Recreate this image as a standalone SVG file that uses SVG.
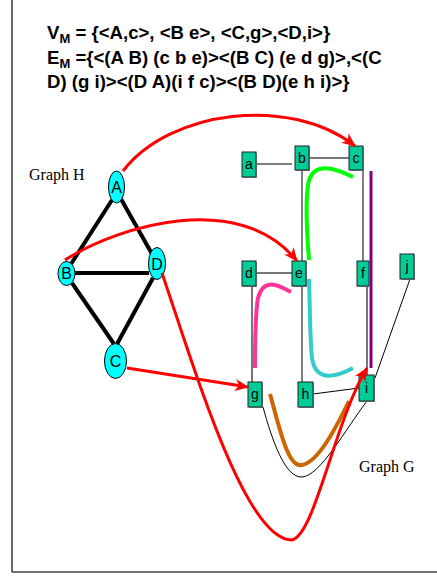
<svg xmlns="http://www.w3.org/2000/svg" width="437" height="576" viewBox="0 0 437 576">
<style>
.ttl{font-family:"Liberation Sans",Arial,sans-serif;font-weight:bold;font-size:18.6px;fill:#000}
.ser{font-family:"Liberation Serif","Times New Roman",serif;font-size:16px;fill:#000}
.hn ellipse{fill:#00FFFF;stroke:#000;stroke-width:1}
.hn text{font-family:"Liberation Sans",Arial,sans-serif;font-size:16px;text-anchor:middle;fill:#000}
.gn .sh{fill:#999}
.gn .bx{fill:#00CC99;stroke:#222;stroke-width:1}
.gn text{font-family:"Liberation Sans",Arial,sans-serif;font-size:14px;text-anchor:middle;fill:#000}
.he{stroke:#000;stroke-width:4;fill:none}
.thin{stroke:#000;stroke-width:1;fill:none}
.gray{stroke:#777;stroke-width:2;fill:none}
.red{stroke:#FF0000;stroke-width:3;fill:none;marker-end:url(#ah)}
.hl{fill:none;stroke-width:4;stroke-linecap:butt}
</style>
<defs>
<marker id="ah" markerUnits="userSpaceOnUse" markerWidth="14" markerHeight="12" viewBox="0 0 14 12" refX="13" refY="6" orient="auto">
<path d="M0,0 L14,6 L0,12 L4,6 Z" fill="#FF0000"/>
</marker>
</defs>
<rect x="0" y="0" width="437" height="576" fill="#fff"/>
<g id="frame">
<line x1="12" y1="0" x2="12" y2="572" stroke="#666" stroke-width="2"/>
<line x1="12" y1="572" x2="437" y2="572" stroke="#444" stroke-width="1.5"/>
</g>
<g id="title">
<text class="ttl" x="47" y="39">V<tspan font-size="13" dy="4">M</tspan><tspan dy="-4"> = {&lt;A,c&gt;, &lt;B e&gt;, &lt;C,g&gt;,&lt;D,i&gt;}</tspan></text>
<text class="ttl" x="47" y="64">E<tspan font-size="13" dy="4">M</tspan><tspan dy="-4"> ={&lt;(A B) (c b e)&gt;&lt;(B C) (e d g)&gt;,&lt;(C</tspan></text>
<text class="ttl" x="47" y="88">D) (g i)&gt;&lt;(D A)(i f c)&gt;&lt;(B D)(e h i)&gt;}</text>
</g>
<text class="ser" x="29" y="180">Graph H</text>
<text class="ser" x="359" y="472">Graph G</text>
<g id="edges-H">
<line class="he" x1="112" y1="200" x2="71" y2="264"/>
<line class="he" x1="121" y1="199" x2="152" y2="254"/>
<line class="he" x1="75" y1="273" x2="149" y2="273"/>
<line class="he" x1="72" y1="283" x2="114" y2="344"/>
<line class="he" x1="153" y1="278" x2="117" y2="344"/>
</g>
<g id="edges-G">
<line class="thin" x1="256" y1="164" x2="292" y2="164"/>
<line class="gray" x1="309" y1="158" x2="349" y2="158"/>
<line class="thin" x1="302" y1="170" x2="302" y2="261"/>
<line class="thin" x1="363" y1="170" x2="363" y2="261"/>
<line class="gray" x1="256" y1="273" x2="292" y2="273"/>
<line class="gray" x1="252" y1="286" x2="252" y2="382" stroke-width="1.5"/>
<line class="thin" x1="302" y1="286" x2="302" y2="382"/>
<line class="gray" x1="367" y1="286" x2="367" y2="375" stroke-width="1.5"/>
<line class="thin" x1="410" y1="279" x2="375" y2="378"/>
<line class="thin" x1="313" y1="394" x2="359" y2="388"/>
<path class="thin" d="M263,407 C272,440 285,478 302,477 C320,476 345,430 367,401"/>
</g>
<g id="highlights">
<line x1="371" y1="171" x2="371" y2="368" stroke="#800080" stroke-width="3"/>
<path class="hl" stroke="#00FF00" d="M353,177 C335,168 312,160 308,185 C305,205 307,235 309,260"/>
<path class="hl" stroke="#FF3399" d="M291,292 C280,286 264,276 258,298 C255,315 255,340 255,368"/>
<path class="hl" stroke="#33CCCC" d="M309,279 C310,310 310,340 312,358 C316,385 340,375 353,368"/>
<path class="hl" stroke="#CC6600" d="M270,394 C280,430 288,468 302,465 C318,462 335,430 349,401"/>
</g>
<g id="nodes-G">
<g id="a" class="gn"><rect class="sh" x="243" y="153" width="14" height="25"/><rect class="bx" x="242" y="152" width="14" height="25"/><text x="249" y="169">a</text></g>
<g id="b" class="gn"><rect class="sh" x="296" y="147" width="14" height="24"/><rect class="bx" x="295" y="146" width="14" height="24"/><text x="302" y="163">b</text></g>
<g id="c" class="gn"><rect class="sh" x="350" y="147" width="14" height="24"/><rect class="bx" x="349" y="146" width="14" height="24"/><text x="356" y="163">c</text></g>
<g id="d" class="gn"><rect class="sh" x="243" y="262" width="14" height="25"/><rect class="bx" x="242" y="261" width="14" height="25"/><text x="249" y="278">d</text></g>
<g id="e" class="gn"><rect class="sh" x="293" y="262" width="14" height="25"/><rect class="bx" x="292" y="261" width="14" height="25"/><text x="299" y="278">e</text></g>
<g id="f" class="gn"><rect class="sh" x="358" y="262" width="12" height="25"/><rect class="bx" x="357" y="261" width="12" height="25"/><text x="363" y="278">f</text></g>
<g id="j" class="gn"><rect class="sh" x="401" y="255" width="14" height="25"/><rect class="bx" x="400" y="254" width="14" height="25"/><text x="407" y="271">j</text></g>
<g id="g" class="gn"><rect class="sh" x="249" y="383" width="14" height="25"/><rect class="bx" x="248" y="382" width="14" height="25"/><text x="255" y="399">g</text></g>
<g id="h" class="gn"><rect class="sh" x="299" y="383" width="15" height="25"/><rect class="bx" x="298" y="382" width="15" height="25"/><text x="305.5" y="399">h</text></g>
<g id="i" class="gn"><rect class="sh" x="360" y="376" width="15" height="26"/><rect class="bx" x="359" y="375" width="15" height="26"/><text x="366.5" y="393">i</text></g>
</g>
<g id="nodes-H">
<g id="A" class="hn"><ellipse cx="116.5" cy="187" rx="8" ry="16"/><text x="116.5" y="193">A</text></g>
<g id="B" class="hn"><ellipse cx="66.5" cy="273.5" rx="8.5" ry="12"/><text x="66.5" y="279">B</text></g>
<g id="D" class="hn"><ellipse cx="157" cy="263.5" rx="8.5" ry="16"/><text x="157" y="270">D</text></g>
<g id="C" class="hn"><ellipse cx="115.5" cy="361" rx="11" ry="17.5"/><text x="115.5" y="367">C</text></g>
</g>
<g id="mapping">
<path class="red" d="M123,171 C170,110 290,95 355,146"/>
<path class="red" d="M65,260 C120,225 240,190 297,261"/>
<path class="red" d="M127,368 L248,387"/>
<path class="red" d="M162,273 C195,370 245,540 292,540 C315,535 335,420 367,368"/>
</g>
</svg>
